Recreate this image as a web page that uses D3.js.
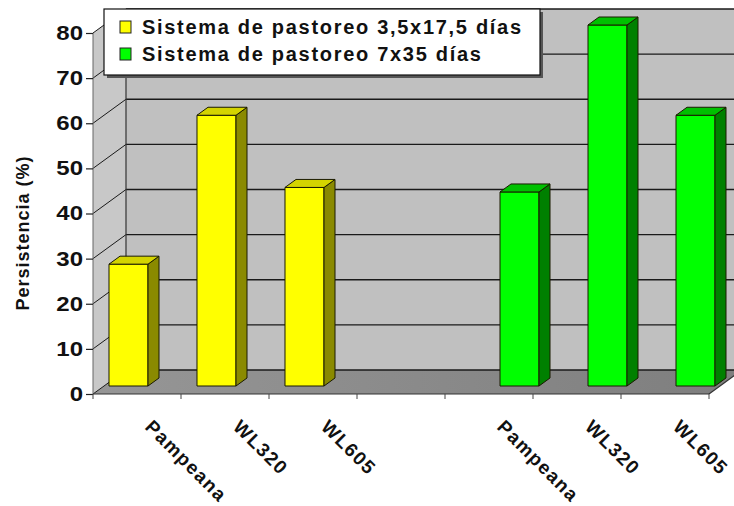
<!DOCTYPE html>
<html><head><meta charset="utf-8">
<script src="https://cdn.jsdelivr.net/npm/d3@7"></script>
<style>
body{margin:0;background:#fff}
svg{display:block}
text{font-family:"Liberation Sans",Arial,Helvetica,sans-serif;fill:#111}
</style>
</head><body>
<script>
// ---- data ----
const categories = ["Pampeana","WL320","WL605","","Pampeana","WL320","WL605"];
const seriesNames = ["Sistema de pastoreo 3,5x17,5 días","Sistema de pastoreo 7x35 días"];
const valuesShort = [27,60,44,null,null,null,null];
const valuesLong  = [null,null,null,null,43,80,60];
const yTicks = [0,10,20,30,40,50,60,70,80];
const yTitle = "Persistencia (%)";

// ---- style ----
const colors = [
  {front:"#ffff00", side:"#8a8a00", top:"#d4d400"},
  {front:"#00ff00", side:"#008000", top:"#00c000"}
];
const W=734,H=506, DX=33, DY=24;

const svg = d3.select("body").append("svg").attr("width",W).attr("height",H);

const x = d3.scaleBand().domain(d3.range(categories.length)).range([93,709]);
const sub = d3.scaleBand().domain([0,1]).range([0,x.bandwidth()]).paddingOuter(0.128);
const y = d3.scaleLinear().domain([0,80]).range([394,33]);

const xL = x.range()[0], xR = x.range()[1], yB = y(0), yT = y(d3.max(yTicks));

const defs = svg.append("defs");
const g1 = defs.append("linearGradient").attr("id","floorG").attr("x1","0").attr("x2","1").attr("y1","0").attr("y2","0");
g1.append("stop").attr("offset","0").attr("stop-color","#969696");
g1.append("stop").attr("offset","1").attr("stop-color","#7e7e7e");

const pts = a => a.map(p=>p.join(",")).join(" ");

// back wall
svg.append("rect").attr("x",xL+DX).attr("y",yT-DY).attr("width",xR-xL).attr("height",yB-yT)
  .attr("fill","#c0c0c0");
// left wall
svg.append("polygon").attr("points",pts([[xL,yB],[xL+DX,yB-DY],[xL+DX,yT-DY],[xL,yT]]))
  .attr("fill","#c8c8c8");
// floor
svg.append("polygon").attr("points",pts([[xL,yB],[xR,yB],[xR+DX,yB-DY],[xL+DX,yB-DY]]))
  .attr("fill","url(#floorG)");

// gridlines on back wall and left wall
yTicks.forEach(v=>{
  svg.append("line").attr("x1",xL+DX).attr("x2",xR+DX).attr("y1",y(v)-DY).attr("y2",y(v)-DY)
    .attr("stroke","#1a1a1a").attr("stroke-width",1.3);
  svg.append("line").attr("x1",xL).attr("x2",xL+DX).attr("y1",y(v)).attr("y2",y(v)-DY)
    .attr("stroke","#1a1a1a").attr("stroke-width",1);
});
// wall edges
svg.append("line").attr("x1",xL+DX).attr("x2",xL+DX).attr("y1",yB-DY).attr("y2",yT-DY).attr("stroke","#333").attr("stroke-width",1.2);
svg.append("line").attr("x1",xL).attr("x2",xL).attr("y1",yB).attr("y2",yT).attr("stroke","#666").attr("stroke-width",1);
svg.append("line").attr("x1",xL).attr("x2",xR).attr("y1",yB).attr("y2",yB).attr("stroke","#333").attr("stroke-width",1.2);
svg.append("line").attr("x1",xR).attr("x2",xR+DX).attr("y1",yB).attr("y2",yB-DY).attr("stroke","#333").attr("stroke-width",1.2);

// y axis
const yAxis = d3.axisLeft(y).tickValues(yTicks).tickSize(7).tickSizeOuter(0).tickPadding(6);
const ya = svg.append("g").attr("transform",`translate(${xL},0)`).call(yAxis);
ya.select(".domain").remove();
ya.selectAll(".tick line").attr("stroke","#222").attr("stroke-width",1.2);
ya.selectAll(".tick text")
  .attr("font-size",20).attr("font-weight","bold").attr("fill","#1a1a1a")
  .attr("font-family","'Liberation Sans',Arial,sans-serif")
  .attr("x",-10/1.2).attr("transform","scale(1.2,1)");

// y title
svg.append("text").attr("transform",`translate(29,233) rotate(-90)`)
  .attr("text-anchor","middle").attr("font-size",18).attr("font-weight","bold")
  .attr("letter-spacing",1).text(yTitle);

// category ticks
const bounds = x.domain().map(i=>x(i)).concat([xR]);
svg.selectAll(".ctick").data(bounds).enter().append("line")
  .attr("x1",d=>d).attr("x2",d=>d).attr("y1",yB).attr("y2",yB+5)
  .attr("stroke","#444").attr("stroke-width",1);

// category labels
svg.selectAll(".clab").data(categories).enter().append("text")
  .attr("transform",(d,i)=>`translate(${x(i)+x.bandwidth()/2+7},428) rotate(45)`)
  .attr("font-size",19).attr("font-weight","bold").attr("letter-spacing",1.4)
  .attr("fill","#1a1a1a").text(d=>d);

// bars
const zf = 1/3;
[valuesShort, valuesLong].forEach((vals,s)=>{
  const c = colors[s];
  vals.forEach((v,i)=>{
    if(v==null) return;
    const w = sub.bandwidth();
    const xf = x(i)+sub(s)+DX*zf;
    const yt = y(v)-DY*zf, yb = y(0)-DY*zf;
    const dx = DX*zf, dy = DY*zf;
    const g = svg.append("g").attr("stroke","#1a1a00").attr("stroke-width",1).attr("stroke-linejoin","round");
    g.append("rect").attr("x",xf).attr("y",yt).attr("width",w).attr("height",yb-yt).attr("fill",c.front);
    g.append("polygon").attr("points",pts([[xf+w,yt],[xf+w+dx,yt-dy],[xf+w+dx,yb-dy],[xf+w,yb]])).attr("fill",c.side);
    g.append("polygon").attr("points",pts([[xf,yt],[xf+w,yt],[xf+w+dx,yt-dy],[xf+dx,yt-dy]])).attr("fill",c.top);
  });
});

// legend
const lg = svg.append("g").attr("transform","translate(104,9)");
lg.append("rect").attr("x",3).attr("y",3).attr("width",436).attr("height",66).attr("fill","#555");
lg.append("rect").attr("x",0).attr("y",0).attr("width",436).attr("height",66).attr("fill","#fff")
  .attr("stroke","#111").attr("stroke-width",1.2);
seriesNames.forEach((name,k)=>{
  lg.append("rect").attr("x",16).attr("y",12+k*27).attr("width",11).attr("height",12)
    .attr("fill",colors[k].front).attr("stroke","#222").attr("stroke-width",1);
  lg.append("text").attr("x",38).attr("y",25+k*27).attr("font-size",20).attr("font-weight","bold")
    .attr("letter-spacing",1.7).attr("fill","#1a1a1a").text(name);
});
</script>
</body></html>
